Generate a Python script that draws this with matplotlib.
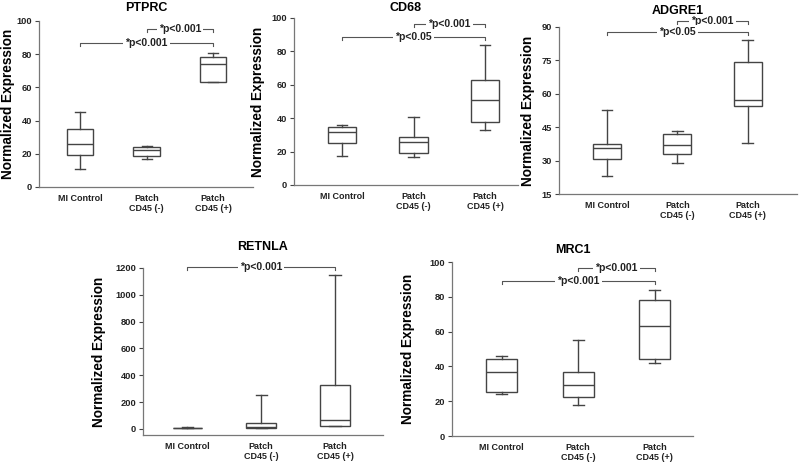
import matplotlib
matplotlib.use("Agg")
import matplotlib.pyplot as plt

plt.rcParams['font.family'] = ['Liberation Sans', 'DejaVu Sans']

groups = ["MI Control", "Patch\nCD45 (-)", "Patch\nCD45 (+)"]

# per group: [whisker low, Q1, median, Q3, whisker high]
ptprc = [[11, 19, 26, 35, 45], [17, 18.5, 22.5, 24, 25], [63, 63, 74, 78.5, 81]]
cd68 = [[17.5, 25, 31.5, 34.5, 36], [16.5, 19, 25.5, 29, 41], [33, 38, 51, 63, 84]]
adgre1 = [[23, 30.5, 35.5, 37.5, 52.5], [29, 33, 37, 42, 43.5], [38, 54.5, 57, 74.5, 84]]
retnla = [[4, 6, 8, 10, 14], [5, 8, 12, 45, 255], [20, 20, 65, 330, 1145]]
mrc1 = [[24, 25.5, 37, 44, 46], [18, 22.5, 29.5, 37, 55], [42, 44.5, 63, 78, 84]]

# brackets: (from group, to group, height, label)
ptprc_sig = [(1, 2, 95, "*p<0.001"), (0, 2, 87, "*p<0.001")]
cd68_sig = [(1, 2, 96.5, "*p<0.001"), (0, 2, 88.5, "*p<0.05")]
adgre1_sig = [(1, 2, 92.7, "*p<0.001"), (0, 2, 87.8, "*p<0.05")]
retnla_sig = [(0, 2, 1205, "*p<0.001")]
mrc1_sig = [(1, 2, 96.5, "*p<0.001"), (0, 2, 89, "*p<0.001")]

W, H = 800, 466
panels = [
    # name, data, sig, (left, right, top, bottom) px, ylim, yticks, xlim, ylabel offset px, title y px
    ("PTPRC", ptprc, ptprc_sig, (39, 253, 21, 187), (0, 100), range(0, 101, 20), (-0.62, 2.6), 24, 8),
    ("CD68", cd68, cd68_sig, (294, 518, 18, 185), (0, 100), range(0, 101, 20), (-0.67, 2.46), 29, 8),
    ("ADGRE1", adgre1, adgre1_sig, (559, 797, 27, 194), (15, 90), range(15, 91, 15), (-0.68, 2.7), 24, 11),
    ("RETNLA", retnla, retnla_sig, (143, 383, 268, 435), (-45, 1200), range(0, 1201, 200), (-0.6, 2.65), 37, 247),
    ("MRC1", mrc1, mrc1_sig, (452, 693, 262, 436), (0, 100), range(0, 101, 20), (-0.65, 2.5), 37, 250),
]

line_col = "#444444"
fig = plt.figure(figsize=(8, 4.66), dpi=100)

for name, data, sig, (l, r, t, b), ylim, yticks, xlim, yoff, ty in panels:
    ax = fig.add_axes([l / W, 1 - b / H, (r - l) / W, (b - t) / H])
    stats = [dict(whislo=d[0], q1=d[1], med=d[2], q3=d[3], whishi=d[4], label=g)
             for d, g in zip(data, groups)]
    ax.bxp(stats, positions=[0, 1, 2], widths=0.4, showfliers=False, patch_artist=True,
           boxprops=dict(facecolor="white", edgecolor=line_col, linewidth=1.0),
           medianprops=dict(color=line_col, linewidth=1.0),
           whiskerprops=dict(color=line_col, linewidth=1.0),
           capprops=dict(color=line_col, linewidth=1.0), capwidths=0.15)
    ax.set_xlim(*xlim)
    ax.set_ylim(*ylim)
    ax.set_yticks(list(yticks))
    ax.set_xticks([0, 1, 2])
    ax.set_xticklabels(groups, fontsize=6.5, fontweight="bold", color="#222222")
    ax.tick_params(axis="x", length=0, pad=5)
    ax.tick_params(axis="y", length=3, width=0.8, color=line_col, labelsize=6.7, pad=2)
    for lab in ax.get_yticklabels():
        lab.set_fontweight("bold")
        lab.set_color("#222222")
    for s in ["top", "right"]:
        ax.spines[s].set_visible(False)
    for s in ["left", "bottom"]:
        ax.spines[s].set_color("#777777")
        ax.spines[s].set_linewidth(0.9)
    fig.text((l + r) / 2 / W, 1 - ty / H, name, ha="center", va="center",
             fontsize=9, fontweight="bold")
    ax.set_ylabel("Normalized Expression", fontsize=9.8, fontweight="bold")
    ax.yaxis.set_label_coords(-yoff / (r - l), 0.5)

    # significance brackets
    span = ylim[1] - ylim[0]
    for g0, g1, y, txt in sig:
        tick = span * 0.018
        ax.plot([g0, g0, g1, g1], [y - tick, y, y, y - tick], color="#555555",
                linewidth=0.8, clip_on=False)
        ax.text((g0 + g1) / 2, y, txt, ha="center", va="center", fontsize=7.5,
                fontweight="bold", color="#222222", clip_on=False,
                bbox=dict(facecolor="white", edgecolor="none", pad=1.5))

fig.savefig("out.png", dpi=100)
